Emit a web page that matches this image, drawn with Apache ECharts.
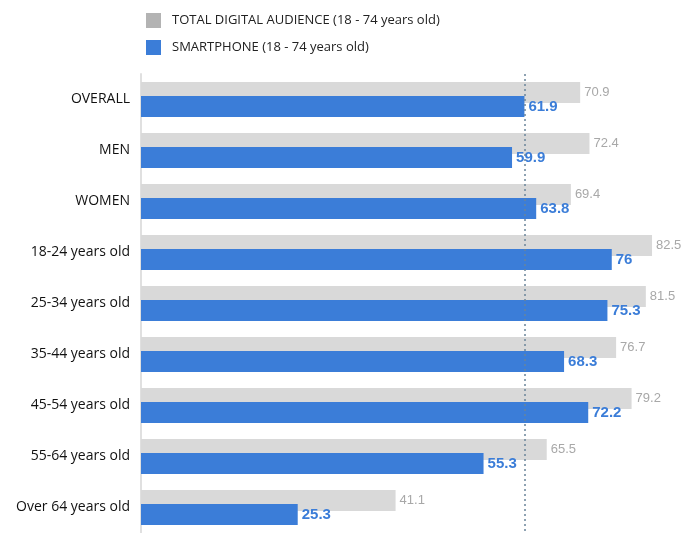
<!DOCTYPE html>
<html>
<head>
<meta charset="utf-8">
<script src="https://cdn.jsdelivr.net/npm/echarts@6/dist/echarts.min.js"></script>
<style>html,body{margin:0;padding:0;background:#fff}#c{width:683px;height:533px}</style>
</head>
<body>
<div id="c"></div>
<script>
var categories = ['OVERALL','MEN','WOMEN','18-24 years old','25-34 years old','35-44 years old','45-54 years old','55-64 years old','Over 64 years old'];
var totalDigital = [70.9, 72.4, 69.4, 82.5, 81.5, 76.7, 79.2, 65.5, 41.1];
var smartphone = [61.9, 59.9, 63.8, 76, 75.3, 68.3, 72.2, 55.3, 25.3];
var referenceValue = 61.9;
var seriesNames = ['TOTAL DIGITAL AUDIENCE (18 - 74 years old)', 'SMARTPHONE (18 - 74 years old)'];

var chart = echarts.init(document.getElementById('c'), null, {renderer:'canvas'});
var font = '"Open Sans", "Liberation Sans", sans-serif';
chart.setOption({
  animation: false,
  backgroundColor: '#fff',
  legend: {
    orient: 'vertical', left: 141, top: 8,
    itemWidth: 15, itemHeight: 15, itemGap: 12,
    icon: 'rect',
    textStyle: {fontFamily: font, fontSize: 13, color: '#222', padding:[0,0,0,6]},
    data: [
      {name: seriesNames[0], itemStyle: {color: '#b3b3b3'}},
      {name: seriesNames[1], itemStyle: {color: '#3b7dd8'}}
    ]
  },
  grid: {left: 141, right: 0, top: 74, height: 468, containLabel: false},
  xAxis: {type: 'value', min: 0, max: 87.5, show: false},
  yAxis: {
    type: 'category', data: categories, inverse: true,
    axisLine: {show: true, lineStyle: {color: '#e0e0e0', width: 2}},
    axisTick: {show: false},
    axisLabel: {fontFamily: font, fontSize: 14, color: '#111', margin: 11}
  },
  series: [
    {
      name: seriesNames[0], type: 'bar', data: totalDigital,
      barWidth: 21, barGap: '-33%',
      itemStyle: {color: '#d9d9d9'},
      label: {show: true, position: 'right', distance: 4, color: '#a8a8a8', fontSize: 13, fontFamily: 'Liberation Sans, Arial, sans-serif'}
    },
    {
      name: seriesNames[1], type: 'bar', data: smartphone,
      barWidth: 21,
      itemStyle: {color: '#3b7dd8'},
      label: {show: true, position: 'right', distance: 4, color: '#3b7dd8', fontSize: 15, fontWeight: 'bold', fontFamily: 'Liberation Sans, Arial, sans-serif'},
      markLine: {
        silent: true, symbol: 'none',
        label: {show: false},
        lineStyle: {type: [2, 3], color: '#6a8499', width: 1.5},
        data: [{xAxis: referenceValue}]
      }
    }
  ]
});
</script>
</body>
</html>
